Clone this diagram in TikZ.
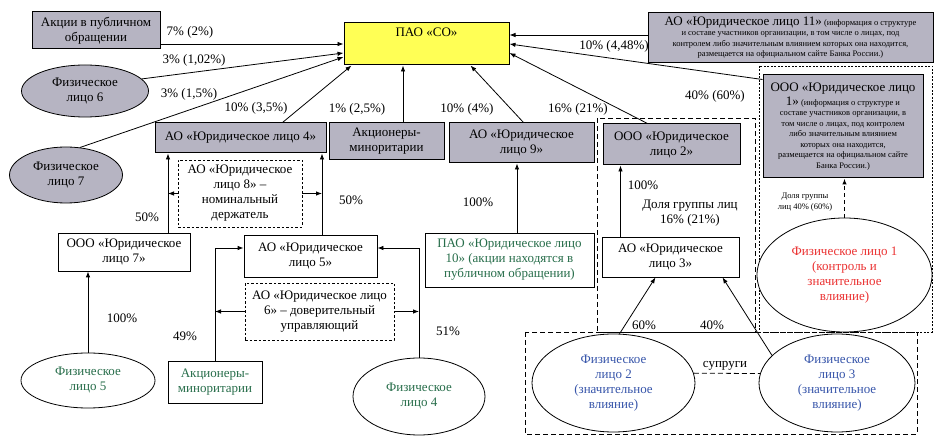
\documentclass[tikz,border=0pt]{standalone}
\usepackage{fontspec}
\setmainfont{Liberation Serif}
\usetikzlibrary{shapes, arrows.meta, positioning, calc}
\definecolor{boxgray}{RGB}{182, 180, 194}
\definecolor{soyellow}{RGB}{255, 255, 85}
\definecolor{persgreen}{RGB}{40, 110, 75}
\definecolor{persblue}{RGB}{55, 85, 170}
\definecolor{persred}{RGB}{235, 50, 50}
\newcommand{\mainfs}{\fontsize{13}{15}\selectfont}
\newcommand{\notefs}{\fontsize{8.5}{10.5}\selectfont}

\tikzset{
  grayfirm/.style={draw, line width=1pt, fill=boxgray, align=center, inner sep=0pt},
  whitefirm/.style={draw, line width=0.8pt, fill=white, align=center, inner sep=0pt},
  nominee/.style={draw, line width=0.7pt, dash pattern=on 2.5pt off 2pt, fill=white, align=center, inner sep=0pt},
  person/.style={draw, ellipse, line width=0.8pt, fill=white, align=center, inner sep=0pt},
  share/.style={line width=0.8pt, -{Latex[length=6pt,width=4.5pt]}},
  pct/.style={inner sep=0pt, align=center},
  group/.style={line width=0.8pt, dash pattern=on 5pt off 3pt},
}

\begin{document}
\begin{tikzpicture}[x=1pt, y=-1pt, font=\mainfs]
  \useasboundingbox (0,0) rectangle (938,446);

  \draw[group] (597,118) rectangle (755,332);
  \draw[group, dash pattern=on 2pt off 1.5pt] (759,66) rectangle (932,332);
  \draw[group] (525,332) rectangle (917,434);

  \node[grayfirm, minimum width=128, minimum height=37] (akcii) at (96,30.5) {Акции в публичном\\обращении};
  \node[draw, line width=1pt, fill=soyellow, minimum width=165, inner xsep=0pt, inner ysep=2pt,
        text height=12pt, text depth=26pt] (pao) at (426.5,44) {ПАО «СО»};
  \node[person, fill=boxgray, minimum width=127, minimum height=52] (f6) at (85,91) {Физическое\\лицо 6};
  \node[person, fill=boxgray, minimum width=113, minimum height=56] (f7) at (66,175) {Физическое\\лицо 7};
  \node[grayfirm, minimum width=171, minimum height=30] (ao4) at (240.5,138) {АО «Юридическое лицо 4»};
  \node[grayfirm, minimum width=115, minimum height=37] (mino) at (386.5,141.5) {Акционеры-\\миноритарии};
  \node[grayfirm, minimum width=145, minimum height=40] (ao9) at (521.5,143) {АО «Юридическое\\лицо 9»};
  \node[grayfirm, minimum width=137, minimum height=41] (ooo2) at (671.5,144.5) {ООО «Юридическое\\лицо 2»};
  \node[grayfirm, font=\notefs, minimum width=285, minimum height=50] (ao11) at (790.5,37.5)
    {{\mainfs АО «Юридическое лицо 11»} (информация о структуре\\и составе участников организации, в том числе о лицах, под\\контролем либо значительным влиянием которых она находится,\\размещается на официальном сайте Банка России.)};
  \node[grayfirm, font=\notefs, minimum width=160, minimum height=103] (ooo1) at (843,126.5)
    {{\mainfs ООО «Юридическое лицо}\\[1pt]{\mainfs 1»} (информация о структуре и\\составе участников организации, в\\том числе о лицах, под контролем\\либо значительным влиянием\\которых она находится,\\размещается на официальном сайте\\Банка России.)};
  \node[person, text=persred, minimum width=175, minimum height=114] (f1) at (844.5,275) {Физическое лицо 1\\(контроль и\\значительное\\влияние)};
  \node[whitefirm, minimum width=137, minimum height=40] (ao3) at (670.5,257) {АО «Юридическое\\лицо 3»};
  \node[whitefirm, text=persgreen, minimum width=169, minimum height=54] (pao10) at (509.5,260) {ПАО «Юридическое лицо\\10» (акции находятся в\\публичном обращении)};
  \node[whitefirm, minimum width=132, minimum height=38] (ooo7) at (124,252) {ООО «Юридическое\\лицо 7»};
  \node[whitefirm, minimum width=133, minimum height=42] (ao5) at (310.5,256) {АО «Юридическое\\лицо 5»};
  \node[nominee, minimum width=124, minimum height=67] (ao8) at (240,193.5) {АО «Юридическое\\лицо 8» –\\номинальный\\держатель};
  \node[nominee, minimum width=149, minimum height=57] (ao6) at (319.5,311.5) {АО «Юридическое лицо\\6» – доверительный\\управляющий};
  \node[person, text=persgreen, minimum width=134, minimum height=55] (f5) at (88,380.5) {Физическое\\лицо 5};
  \node[whitefirm, text=persgreen, minimum width=94, minimum height=42] (mino2) at (215,382) {Акционеры-\\миноритарии};
  \node[person, text=persgreen, minimum width=132, minimum height=77] (f4) at (419,396.5) {Физическое\\лицо 4};
  \node[person, text=persblue, minimum width=163, minimum height=98] (f2) at (613.5,383) {Физическое\\лицо 2\\(значительное\\влияние)};
  \node[person, text=persblue, minimum width=156, minimum height=98] (f3) at (837,383) {Физическое\\лицо 3\\(значительное\\влияние)};

  \node[pct] (p7) at (190,32) {7\% (2\%)};
  \node[pct] (p3a) at (194,60) {3\% (1,02\%)};
  \node[pct] (p3b) at (189,94) {3\% (1,5\%)};
  \node[pct] (p10a) at (256,108) {10\% (3,5\%)};
  \node[pct] (p1) at (357,109) {1\% (2,5\%)};
  \node[pct] (p10b) at (467,109) {10\% (4\%)};
  \node[pct] (p16) at (578,109) {16\% (21\%)};
  \node[pct] (p10c) at (614,46) {10\% (4,48\%)};
  \node[pct] (p40) at (715,96) {40\% (60\%)};
  \node[pct] (p100a) at (643,185) {100\%};
  \node[pct] (grp16) at (690,213) {Доля группы лиц\\16\% (21\%)};
  \node[pct, font=\notefs] (grp40) at (805,202) {Доля группы\\лиц 40\% (60\%)};
  \node[pct] (p100b) at (478,202) {100\%};
  \node[pct] (p50a) at (147,217) {50\%};
  \node[pct] (p50b) at (351,200) {50\%};
  \node[pct] (p100c) at (122,318) {100\%};
  \node[pct] (p49) at (185,336) {49\%};
  \node[pct] (p51) at (448,331) {51\%};
  \node[pct] (p60) at (644,325) {60\%};
  \node[pct] (p40b) at (712,325) {40\%};
  \node[pct] (spouse) at (725,366) {супруги};

  \coordinate (p11) at ([yshift=9pt]pao.east);
  \draw[share] (akcii.east |- pao.west) -- (pao.west);
  \draw[share] (f6.12) -- ([yshift=-9pt]pao.west);
  \draw[share] (f7.63) -- ([yshift=-13pt]pao.west);
  \draw[share] ([xshift=42pt]ao4.north) -- ([xshift=8pt]pao.south west);
  \draw[share] ([xshift=16.5pt]mino.north) -- ([xshift=16.5pt]mino.north |- pao.south);
  \draw[share] ([xshift=2pt]ao9.north) -- ([xshift=44pt]pao.south);
  \draw[share] ([xshift=-24pt]ooo2.north) -- ([yshift=-9pt]pao.east);
  \draw[share] (p11 -| ao11.west) -- (p11);
  \draw[share] ([yshift=-5pt]ooo1.north west) -- (pao.east);

  \coordinate (l7) at ([xshift=44pt]ooo7.north);
  \coordinate (l5) at ([xshift=11.5pt]ao5.north);
  \draw[share] (l7) -- (l7 |- ao4.south);
  \draw[share] (ao8.west) -- (ao8.west -| l7);
  \draw[share] (l5) -- (l5 |- ao4.south);
  \draw[share] (ao8.east) -- (ao8.east -| l5);
  \draw[share] (f5.north) -- (f5.north |- ooo7.south);
  \draw[share] (mino2.north) |- ([yshift=8pt]ao5.west);
  \draw[share] (f4.north) |- ([yshift=8pt]ao5.east);
  \draw[share] (ao6.west) -- (ao6.west -| mino2.north);
  \draw[share] (ao6.east) -- (ao6.east -| f4.north);
  \draw[share] ([xshift=7.5pt]pao10.north) -- ([xshift=7.5pt]pao10.north |- ao9.south);
  \draw[share] ([xshift=-50pt]ao3.north) -- ([xshift=-50pt]ao3.north |- ooo2.south);
  \draw[share] (f2.83) -- ([xshift=-15pt]ao3.south);
  \draw[share] (f3.157) -- ([xshift=52pt]ao3.south);
  \draw[share, line width=1.5pt, dash pattern=on 4pt off 3pt] (f1.north) -- (f1.north |- ooo1.south);
  \draw[group] (f2.7) -- (f3.173);
\end{tikzpicture}
\end{document}
